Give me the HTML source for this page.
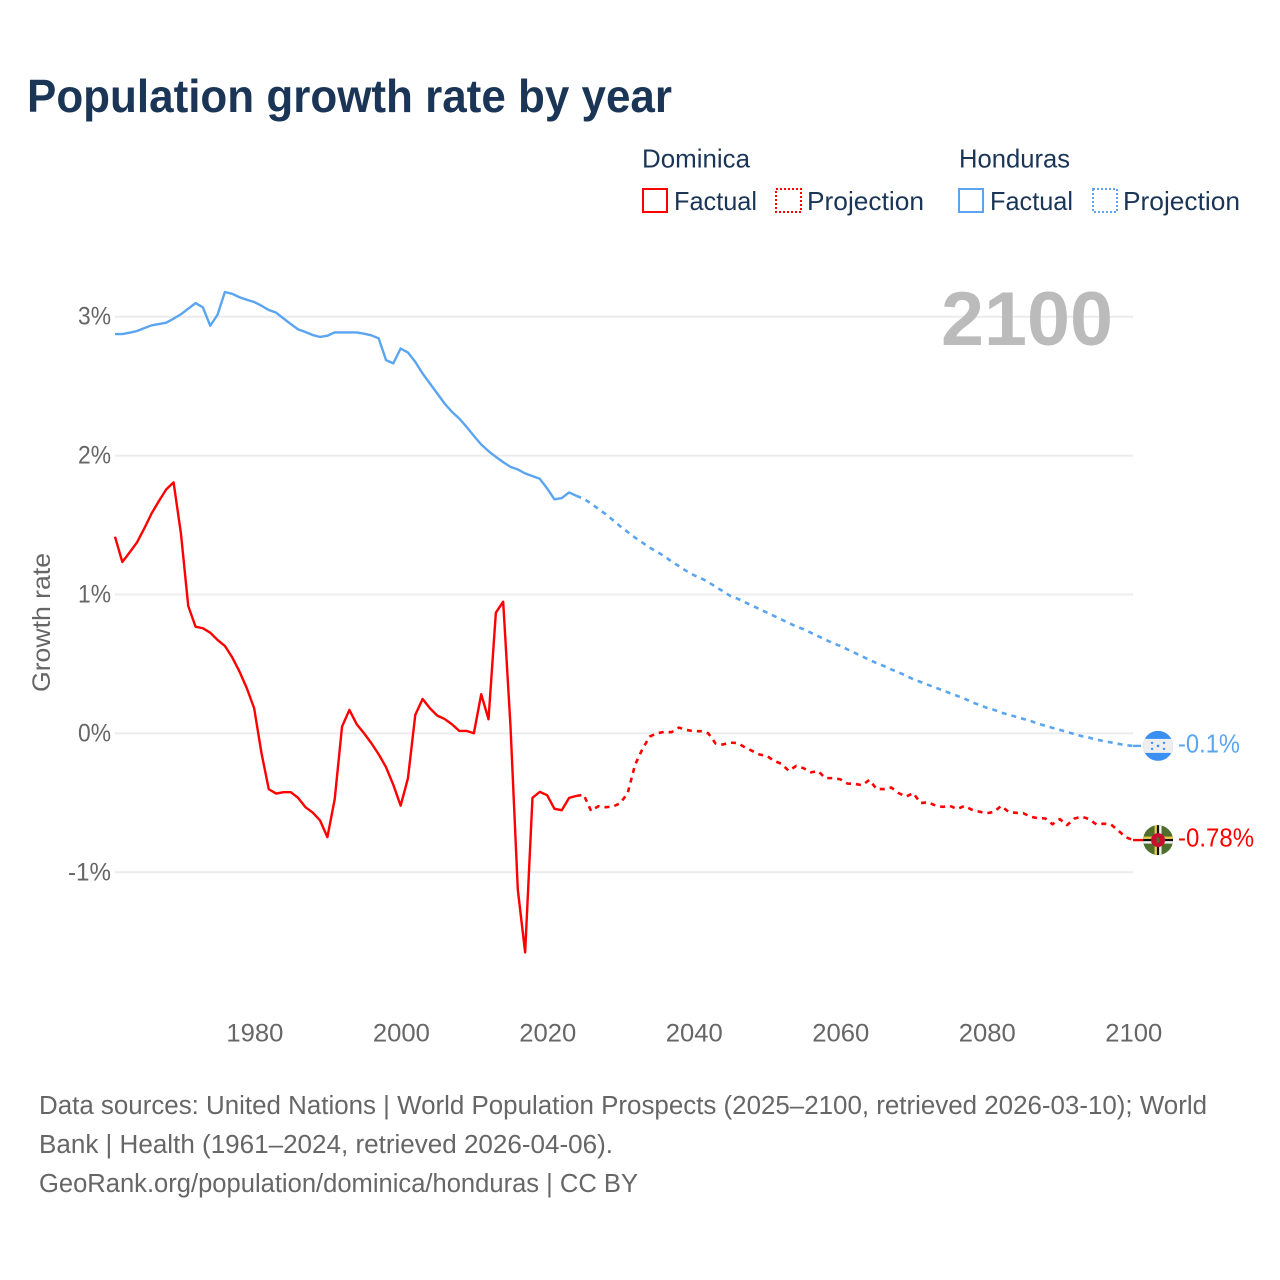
<!DOCTYPE html>
<html lang="en">
<head>
<meta charset="utf-8">
<title>Population growth rate by year</title>
<style>
html,body{margin:0;padding:0;background:#fff;}
svg{display:block;font-family:"Liberation Sans",sans-serif;}
</style>
</head>
<body>
<svg id="chart" width="1280" height="1280" viewBox="0 0 1280 1280" xmlns="http://www.w3.org/2000/svg">
  <rect width="1280" height="1280" fill="#ffffff"/>
  <text x="27" y="112" font-size="46" font-weight="700" fill="#1a3556" textLength="645" lengthAdjust="spacingAndGlyphs">Population growth rate by year</text>

  <g font-size="26" fill="#1a3556">
    <text x="642" y="167.5" textLength="108" lengthAdjust="spacingAndGlyphs">Dominica</text>
    <text x="959" y="167.5" textLength="111" lengthAdjust="spacingAndGlyphs">Honduras</text>
    <g>
      <rect x="643" y="189" width="24" height="23" fill="none" stroke="#ff0000" stroke-width="2"/>
      <text x="674" y="210" textLength="83" lengthAdjust="spacingAndGlyphs">Factual</text>
    </g>
    <g>
      <rect x="776" y="189" width="25" height="23" fill="none" stroke="#ff0000" stroke-width="2" stroke-dasharray="2 2"/>
      <text x="807" y="210" textLength="117" lengthAdjust="spacingAndGlyphs">Projection</text>
    </g>
    <g>
      <rect x="959" y="189" width="24" height="23" fill="none" stroke="#5ba5f0" stroke-width="2"/>
      <text x="990" y="210" textLength="83" lengthAdjust="spacingAndGlyphs">Factual</text>
    </g>
    <g>
      <rect x="1093" y="189" width="24" height="23" fill="none" stroke="#5ba5f0" stroke-width="2" stroke-dasharray="2 2"/>
      <text x="1123" y="210" textLength="117" lengthAdjust="spacingAndGlyphs">Projection</text>
    </g>
  </g>

  <g id="grid"></g>
  <g id="yticks"></g>
  <g id="xticks"></g>

  <text transform="translate(50 692) rotate(-90)" font-size="25" fill="#666666" textLength="139" lengthAdjust="spacingAndGlyphs">Growth rate</text>
  <text x="941" y="345" font-size="76" font-weight="700" fill="#bbbbbb" textLength="172" lengthAdjust="spacingAndGlyphs">2100</text>

  <g id="series"></g>

  <defs>
    <clipPath id="flag-clip-honduras"><circle cx="0" cy="0" r="15"/></clipPath>
    <clipPath id="flag-clip-dominica"><circle cx="0" cy="0" r="15"/></clipPath>
  </defs>
  <g id="flag-honduras" clip-path="url(#flag-clip-honduras)">
    <rect x="-15" y="-15" width="30" height="30" fill="#3a8ff2"/>
    <rect x="-15" y="-7" width="30" height="14" fill="#eeeeee"/>
    <circle cx="0" cy="0" r="1.3" fill="#3a8ff2"/>
    <circle cx="-6" cy="-3" r="1.2" fill="#3a8ff2"/>
    <circle cx="6" cy="-3" r="1.2" fill="#3a8ff2"/>
    <circle cx="-6" cy="3" r="1.2" fill="#3a8ff2"/>
    <circle cx="6" cy="3" r="1.2" fill="#3a8ff2"/>
  </g>
  <g id="flag-dominica" clip-path="url(#flag-clip-dominica)">
    <rect x="-15" y="-15" width="30" height="30" fill="#4f6f2c"/>
    <rect x="-15" y="-3.5" width="30" height="2.4" fill="#e8c94a"/>
    <rect x="-15" y="-1.1" width="30" height="2.2" fill="#111111"/>
    <rect x="-15" y="1.1" width="30" height="2.4" fill="#f2f2f2"/>
    <rect x="-3.5" y="-15" width="2.4" height="30" fill="#e8c94a"/>
    <rect x="-1.1" y="-15" width="2.2" height="30" fill="#111111"/>
    <rect x="1.1" y="-15" width="2.4" height="30" fill="#f2f2f2"/>
    <circle cx="0" cy="0" r="7" fill="#c8102e"/>
    <ellipse cx="0" cy="0" rx="1.6" ry="3" fill="#4f6f2c"/>
  </g>
  <g id="endlabels"></g>

  <g font-size="25.5" fill="#666666">
    <text x="39" y="1114" textLength="1168" lengthAdjust="spacingAndGlyphs">Data sources: United Nations | World Population Prospects (2025–2100, retrieved 2026-03-10); World</text>
    <text x="39" y="1153" textLength="574" lengthAdjust="spacingAndGlyphs">Bank | Health (1961–2024, retrieved 2026-04-06).</text>
    <text x="39" y="1192" textLength="599" lengthAdjust="spacingAndGlyphs">GeoRank.org/population/dominica/honduras | CC BY</text>
  </g>
</svg>
<script>
var firstYear = 1961;
var lastFactualYear = 2024;
var yTickValues = [3, 2, 1, 0, -1];
var yTickLabels = ["3%", "2%", "1%", "0%", "-1%"];
var xTickValues = [1980, 2000, 2020, 2040, 2060, 2080, 2100];
var xTickLabels = ["1980", "2000", "2020", "2040", "2060", "2080", "2100"];
var dominicaEndLabel = "-0.78%";
var hondurasEndLabel = "-0.1%";

// 1961..2024
var dominicaFactual = [1.416,1.234,1.303,1.375,1.476,1.584,1.673,1.757,1.807,1.44,0.917,0.768,0.757,0.725,0.673,0.63,0.548,0.445,0.325,0.181,-0.142,-0.402,-0.433,-0.423,-0.423,-0.464,-0.531,-0.57,-0.627,-0.747,-0.473,0.049,0.169,0.066,0.001,-0.07,-0.15,-0.243,-0.37,-0.52,-0.322,0.133,0.248,0.181,0.128,0.104,0.066,0.018,0.018,0.001,0.282,0.102,0.869,0.948,0.05,-1.126,-1.577,-0.464,-0.421,-0.445,-0.543,-0.553,-0.464,-0.45];
// 2025..2100
var dominicaProjection = [-0.442,-0.558,-0.524,-0.531,-0.527,-0.502,-0.43,-0.227,-0.114,-0.023,0.001,0.011,0.009,0.042,0.025,0.016,0.016,0.001,-0.073,-0.08,-0.066,-0.07,-0.1,-0.126,-0.152,-0.162,-0.198,-0.219,-0.27,-0.234,-0.25,-0.28,-0.272,-0.322,-0.322,-0.33,-0.361,-0.363,-0.373,-0.335,-0.401,-0.401,-0.39,-0.43,-0.455,-0.43,-0.502,-0.495,-0.519,-0.529,-0.522,-0.545,-0.522,-0.55,-0.563,-0.575,-0.565,-0.522,-0.565,-0.572,-0.574,-0.6,-0.61,-0.612,-0.654,-0.617,-0.66,-0.613,-0.6,-0.617,-0.656,-0.65,-0.656,-0.7,-0.747,-0.768];
// 1961..2024
var hondurasFactual = [2.875,2.875,2.885,2.897,2.918,2.938,2.947,2.957,2.986,3.017,3.058,3.098,3.067,2.935,3.014,3.178,3.165,3.14,3.122,3.106,3.079,3.048,3.029,2.988,2.947,2.909,2.89,2.868,2.854,2.863,2.887,2.887,2.887,2.887,2.878,2.866,2.844,2.688,2.664,2.771,2.742,2.675,2.591,2.519,2.447,2.375,2.315,2.267,2.207,2.142,2.08,2.032,1.991,1.953,1.919,1.9,1.872,1.852,1.833,1.764,1.685,1.694,1.735,1.71];
// 2025..2100
var hondurasProjection = [1.69,1.655,1.616,1.578,1.535,1.49,1.45,1.41,1.374,1.338,1.307,1.276,1.237,1.204,1.17,1.14,1.118,1.09,1.055,1.024,0.99,0.97,0.945,0.92,0.895,0.87,0.845,0.82,0.795,0.77,0.75,0.725,0.7,0.675,0.65,0.63,0.605,0.58,0.555,0.53,0.505,0.485,0.46,0.44,0.415,0.39,0.37,0.35,0.33,0.31,0.29,0.27,0.25,0.225,0.205,0.185,0.17,0.15,0.135,0.12,0.105,0.09,0.07,0.055,0.04,0.025,0.01,-0.005,-0.02,-0.03,-0.045,-0.055,-0.065,-0.075,-0.085,-0.09];

var NS = "http://www.w3.org/2000/svg";
function xScale(year) { return 115 + (year - 1961) * 7.324; }
function yScale(value) { return 733.4 - value * 138.9; }

function pointsFrom(startYear, values) {
  return values.map(function (v, i) {
    return xScale(startYear + i).toFixed(2) + "," + yScale(v).toFixed(2);
  });
}

var gridGroup = document.getElementById("grid");
var yTickGroup = document.getElementById("yticks");
yTickValues.forEach(function (v, i) {
  var line = document.createElementNS(NS, "line");
  
  
  line.setAttribute("x1", 115);
  line.setAttribute("x2", 1133);
  line.setAttribute("y1", yScale(v));
  line.setAttribute("y2", yScale(v));
  line.setAttribute("stroke", "#ececec");
  line.setAttribute("stroke-width", 2);
  gridGroup.appendChild(line);

  var label = document.createElementNS(NS, "text");
  
  
  var w = yTickLabels[i].charAt(0) === "-" ? 43 : 33;
  label.setAttribute("x", 111 - w);
  label.setAttribute("y", yScale(v) + 8);
  label.setAttribute("font-size", 25);
  label.setAttribute("fill", "#666666");
  label.setAttribute("textLength", w);
  label.setAttribute("lengthAdjust", "spacingAndGlyphs");
  label.textContent = yTickLabels[i];
  yTickGroup.appendChild(label);
});

var xTickGroup = document.getElementById("xticks");
xTickValues.forEach(function (year, i) {
  var label = document.createElementNS(NS, "text");
  
  
  label.setAttribute("x", xScale(year) - 27.8);
  label.setAttribute("y", 1041.5);
  label.setAttribute("font-size", 25);
  label.setAttribute("fill", "#666666");
  label.setAttribute("textLength", 57);
  label.setAttribute("lengthAdjust", "spacingAndGlyphs");
  label.textContent = xTickLabels[i];
  xTickGroup.appendChild(label);
});

var seriesGroup = document.getElementById("series");
function addLine(pts, color, dashed) {
  var line = document.createElementNS(NS, "polyline");
  line.setAttribute("points", pts.join(" "));
  line.setAttribute("fill", "none");
  line.setAttribute("stroke", color);
  line.setAttribute("stroke-width", dashed ? 2.6 : 2.4);
  line.setAttribute("stroke-linejoin", "round");
  if (dashed) { line.setAttribute("stroke-dasharray", "5 5"); }
  seriesGroup.appendChild(line);
  return line;
}

var projStart = lastFactualYear + 1;
var domFactualLine = addLine(pointsFrom(firstYear, dominicaFactual), "#ff0000", false);


var domProjPts = pointsFrom(lastFactualYear, [dominicaFactual[dominicaFactual.length - 1]].concat(dominicaProjection));
var domProjLine = addLine(domProjPts, "#ff0000", true);


var honFactualLine = addLine(pointsFrom(firstYear, hondurasFactual), "#5ba5f0", false);


var honProjPts = pointsFrom(lastFactualYear, [hondurasFactual[hondurasFactual.length - 1]].concat(hondurasProjection));
var honProjLine = addLine(honProjPts, "#5ba5f0", true);



var lastYear = projStart + dominicaProjection.length - 1;
var endX = xScale(lastYear);
var domEndY = yScale(dominicaProjection[dominicaProjection.length - 1]);
var honEndY = yScale(hondurasProjection[hondurasProjection.length - 1]);

var domConn = addLine([endX + "," + domEndY, (endX + 10) + "," + domEndY], "#ff0000", false);


var honConn = addLine([endX + "," + honEndY, (endX + 8) + "," + honEndY], "#5ba5f0", false);



document.getElementById("flag-dominica").setAttribute("transform", "translate(" + (endX + 25) + " " + domEndY + ")");
document.getElementById("flag-honduras").setAttribute("transform", "translate(" + (endX + 25) + " " + honEndY + ")");

var endGroup = document.getElementById("endlabels");
var domLabel = document.createElementNS(NS, "text");


domLabel.setAttribute("x", endX + 45);
domLabel.setAttribute("y", domEndY + 6.5);
domLabel.setAttribute("font-size", 26);
domLabel.setAttribute("fill", "#ff0000");
domLabel.setAttribute("textLength", 76);
domLabel.setAttribute("lengthAdjust", "spacingAndGlyphs");
domLabel.textContent = dominicaEndLabel;
endGroup.appendChild(domLabel);

var honLabel = document.createElementNS(NS, "text");


honLabel.setAttribute("x", endX + 45);
honLabel.setAttribute("y", honEndY + 6.5);
honLabel.setAttribute("font-size", 26);
honLabel.setAttribute("fill", "#5ba5f0");
honLabel.setAttribute("textLength", 62);
honLabel.setAttribute("lengthAdjust", "spacingAndGlyphs");
honLabel.textContent = hondurasEndLabel;
endGroup.appendChild(honLabel);
</script>
</body>
</html>
